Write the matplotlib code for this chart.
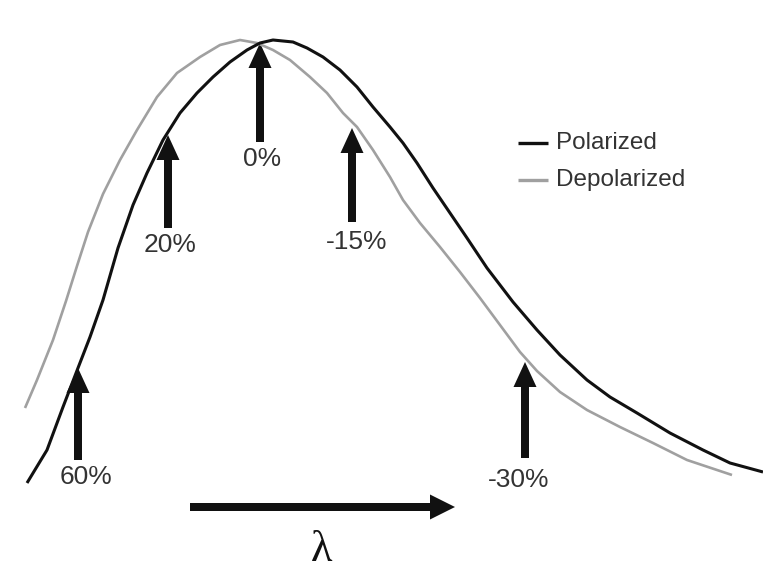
import matplotlib
matplotlib.use("Agg")
import matplotlib.pyplot as plt

# ─────────────────────────────────────────────
#  DATA  (pixel units, y grows downward)
# ─────────────────────────────────────────────
polarized_x = [27, 47, 63, 78, 90, 103, 118, 133, 147, 163, 180, 197, 213,
               230, 247, 260, 273, 293, 307, 323, 340, 357, 373, 390, 403,
               417, 433, 450, 467, 487, 513, 537, 560, 587, 610, 637, 670,
               703, 730, 763]
polarized_y = [483, 450, 407, 368, 337, 300, 248, 205, 173, 140, 113, 93, 77,
               62, 50, 43, 40, 42, 48, 57, 70, 87, 107, 127, 143,
               163, 188, 213, 238, 268, 302, 330, 355, 380, 397, 413, 433,
               450, 463, 472]

depolarized_x = [25, 37, 53, 66, 77, 88, 103, 120, 137, 157, 177, 200, 220,
                 240, 257, 273, 290, 310, 327, 343, 357, 373, 390, 403, 420,
                 440, 460, 480, 500, 520, 537, 560, 587, 620, 653, 687, 732]
depolarized_y = [408, 380, 340, 301, 266, 232, 194, 160, 130, 97, 73, 57, 45,
                 40, 43, 50, 60, 77, 93, 113, 127, 150, 177, 200, 223,
                 247, 272, 298, 325, 352, 371, 392, 410, 427, 443, 460, 475]

# arrow markers: x, tip y, tail y, label, label position
marker_x = [78, 168, 260, 352, 525]
marker_tip = [368, 135, 43, 128, 362]
marker_tail = [460, 228, 142, 222, 458]
marker_labels = ["60%", "20%", "0%", "-15%", "-30%"]
label_x = [86, 170, 262, 357, 519]
label_y = [477, 245, 159, 242, 480]

series_names = ["Polarized", "Depolarized"]
series_colors = ["#111111", "#a0a0a0"]

OUTPUT_PATH = "out.png"
W, H = 763, 585


def build():
    fig = plt.figure(figsize=(W / 100, H / 100), dpi=100, facecolor="white")
    ax = fig.add_axes([0, 0, 1, 1])
    ax.set_xlim(0, W)
    ax.set_ylim(H, 0)
    ax.axis("off")

    # spectra
    ax.plot(depolarized_x, depolarized_y, color=series_colors[1], lw=1.9,
            solid_capstyle="butt", solid_joinstyle="round")
    ax.plot(polarized_x, polarized_y, color=series_colors[0], lw=2.2,
            solid_capstyle="butt", solid_joinstyle="round")

    # percent arrows
    for x, tip, tail, lab, lx, ly in zip(marker_x, marker_tip, marker_tail,
                                         marker_labels, label_x, label_y):
        ax.arrow(x, tail, 0, tip - tail, width=8, head_width=23,
                 head_length=25, length_includes_head=True,
                 color="#111111", lw=0)
        ax.text(lx, ly, lab, ha="center", va="center", fontsize=19,
                color="#333333", family="Liberation Sans")

    # legend
    for i, (name, col) in enumerate(zip(series_names, series_colors)):
        y = 143 + i * 37
        ax.plot([518, 548], [y, y], color=col, lw=2.4, solid_capstyle="butt")
        ax.text(556, y, name, ha="left", va="center", fontsize=17.5,
                color="#333333", family="Liberation Sans")

    # wavelength arrow
    ax.arrow(190, 507, 265, 0, width=8, head_width=25, head_length=25,
             length_includes_head=True, color="#111111", lw=0)
    ax.text(322, 550, "λ", ha="center", va="center", fontsize=32,
            color="#111111", family="Liberation Serif")
    return fig


if __name__ == "__main__":
    fig = build()
    fig.savefig(OUTPUT_PATH, dpi=100, facecolor="white")
